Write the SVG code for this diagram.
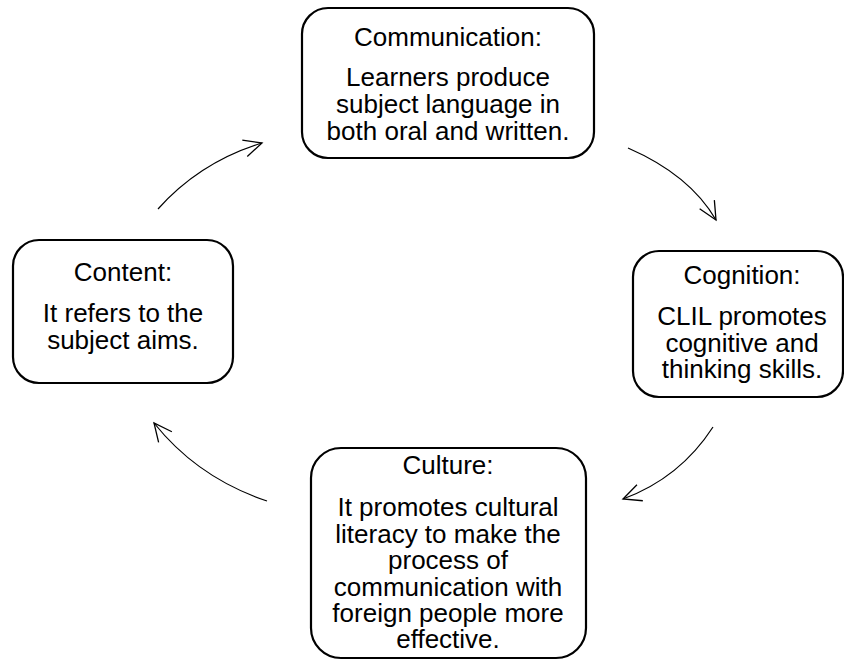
<svg xmlns="http://www.w3.org/2000/svg" width="844" height="660" viewBox="0 0 844 660">
<defs>
<style>
.box{fill:#fff;stroke:#000;stroke-width:2.2}
.t{font-family:"Liberation Sans",Arial,sans-serif;font-size:26px;fill:#000;text-anchor:middle}
.c{fill:none;stroke:#000;stroke-width:1.2}
</style>
<marker id="ah" viewBox="-20 -10 22 20" refX="0" refY="0" markerWidth="22" markerHeight="20" markerUnits="userSpaceOnUse" orient="auto">
<path d="M-18,-8.5 L0,0 L-18,8.5" fill="none" stroke="#000" stroke-width="1.3"/>
</marker>
</defs>
<rect width="844" height="660" fill="#fff"/>
<g id="connectors">
<path class="c" d="M158,209 Q200,162 262,143" marker-end="url(#ah)"/>
<path class="c" d="M628,148 Q690,175 716,220" marker-end="url(#ah)"/>
<path class="c" d="M713,427 Q680,478 623,499" marker-end="url(#ah)"/>
<path class="c" d="M267,501 Q198,478 154,423" marker-end="url(#ah)"/>
</g>
<g id="communication">
<rect class="box" x="302" y="8" width="292" height="150" rx="26"/>
<text class="t" x="448" y="46">Communication:</text>
<text class="t" x="448" y="86">Learners produce</text>
<text class="t" x="448" y="113">subject language in</text>
<text class="t" x="448" y="140">both oral and written.</text>
</g>
<g id="cognition">
<rect class="box" x="633" y="251" width="210" height="146" rx="26"/>
<text class="t" x="742" y="284">Cognition:</text>
<text class="t" x="742" y="325">CLIL promotes</text>
<text class="t" x="742" y="352">cognitive and</text>
<text class="t" x="742" y="378">thinking skills.</text>
</g>
<g id="content">
<rect class="box" x="13" y="240" width="220" height="143" rx="26"/>
<text class="t" x="123" y="281">Content:</text>
<text class="t" x="123" y="322">It refers to the</text>
<text class="t" x="123" y="349">subject aims.</text>
</g>
<g id="culture">
<rect class="box" x="311" y="448" width="275" height="210" rx="30"/>
<text class="t" x="448" y="474">Culture:</text>
<text class="t" x="448" y="516">It promotes cultural</text>
<text class="t" x="448" y="543">literacy to make the</text>
<text class="t" x="448" y="569">process of</text>
<text class="t" x="448" y="596">communication with</text>
<text class="t" x="448" y="622">foreign people more</text>
<text class="t" x="448" y="648">effective.</text>
</g>
</svg>
